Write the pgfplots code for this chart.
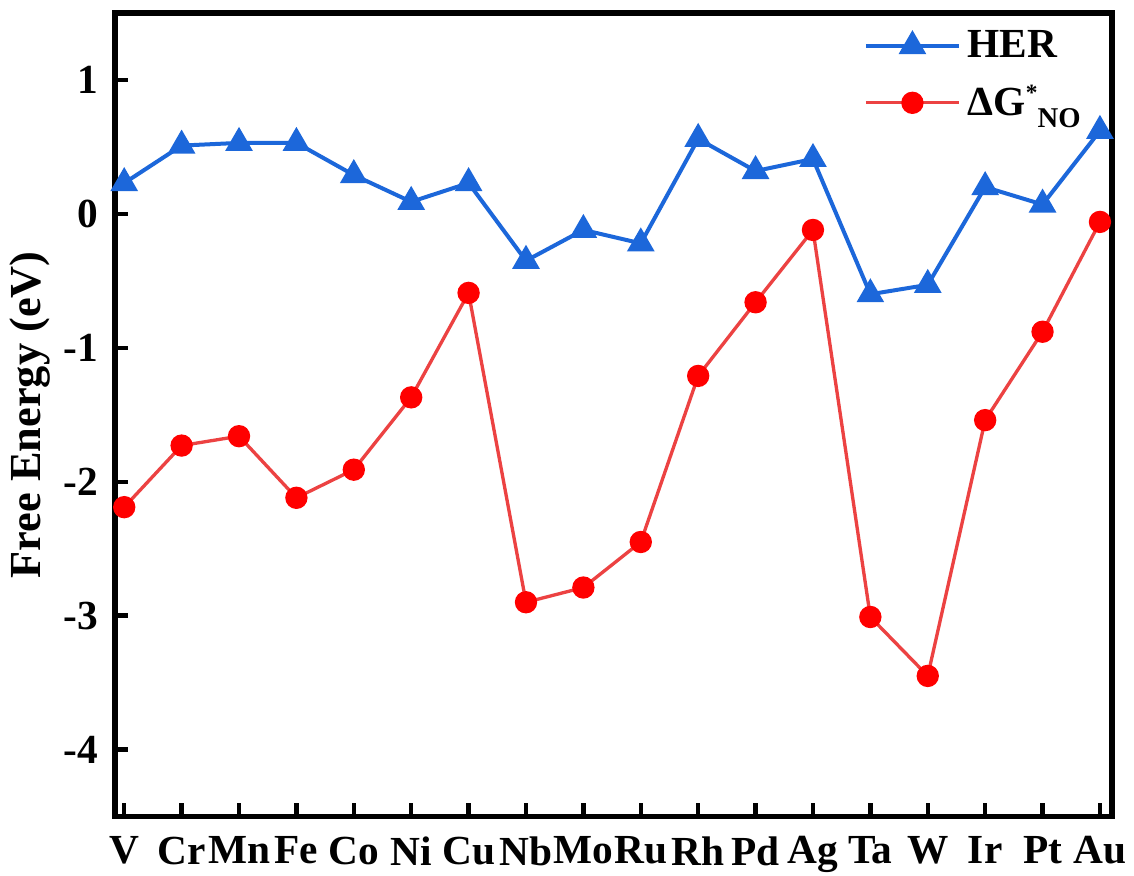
\documentclass[border=0pt]{standalone}
\usepackage{fontspec}
\setmainfont{Liberation Serif}
\usepackage{pgfplots}
\usepackage{pgfplotstable}
\pgfplotsset{compat=1.18}

\definecolor{herblue}{RGB}{28,103,218}
\definecolor{nored}{RGB}{236,66,66}

% idx: metal index, her: HER free energy, no: Delta G*NO (eV)
\pgfplotstableread{
idx her no
0 0.23 -2.19
1 0.51 -1.73
2 0.53 -1.66
3 0.53 -2.12
4 0.29 -1.91
5 0.09 -1.37
6 0.23 -0.59
7 -0.35 -2.90
8 -0.12 -2.79
9 -0.22 -2.45
10 0.56 -1.21
11 0.32 -0.66
12 0.41 -0.12
13 -0.60 -3.01
14 -0.53 -3.45
15 0.20 -1.54
16 0.07 -0.88
17 0.62 -0.06
}\datatable

\begin{document}
\begin{tikzpicture}
\begin{axis}[
  scale only axis,
  width=299pt, height=241pt,
  xmin=-0.16, xmax=17.21,
  ymin=-4.5, ymax=1.5,
  xtick={0,...,17},
  xticklabels={V,Cr,Mn,Fe,Co,Ni,Cu,Nb,Mo,Ru,Rh,Pd,Ag,Ta,W,Ir,Pt,Au},
  ytick={-4,-3,-2,-1,0,1},
  yticklabels={-4,-3,-2,-1,0,1},
  tick align=inside,
  xtick pos=bottom, ytick pos=left,
  major tick length=4pt,
  axis line style={line width=1.6pt},
  every tick/.style={black, line width=1.3pt},
  ticklabel style={font=\fontsize{12.4}{15}\selectfont\bfseries},
  xticklabel style={yshift=-2.5pt},
  yticklabel style={xshift=-1.5pt},
  ylabel={Free Energy (eV)},
  every axis y label/.style={at={(axis description cs:-0.085,0.5)}, rotate=90, anchor=center,
    font=\fontsize{13.3}{16}\selectfont\bfseries},
  legend style={draw=none, fill=none, at={(axis description cs:0.747,0.992)}, anchor=north west,
    font=\fontsize{12.4}{15}\selectfont\bfseries, row sep=3pt, inner sep=1pt},
  legend cell align=left,
  legend image code/.code={%
    \draw[mark repeat=2,mark phase=2,#1] plot coordinates {(0pt,0pt) (14pt,0pt) (28pt,0pt)};},
]
\addplot[herblue, line width=1.2pt, mark=triangle*, mark size=4.3pt,
  mark options={fill=herblue, draw=herblue, line width=0.5pt}] table[x=idx, y=her] {\datatable};
\addlegendentry{HER}
\addplot[nored, line width=1pt, mark=*, mark size=3.1pt,
  mark options={fill=red, draw=red, line width=0.5pt}] table[x=idx, y=no] {\datatable};
\addlegendentry{ΔG\raisebox{0.75ex}{\fontsize{7}{7}\selectfont *}\raisebox{-0.3em}{\fontsize{8.6}{9}\selectfont NO}}
\end{axis}
% page frame around the axis
\pgfresetboundingbox
\path ([xshift=-34.5pt,yshift=-17.7pt]current axis.south west)
  rectangle ([xshift=6.6pt,yshift=3.9pt]current axis.north east);
\end{tikzpicture}
\end{document}
